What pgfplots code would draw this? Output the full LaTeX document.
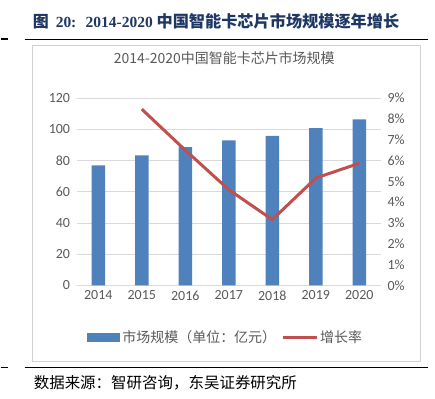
\documentclass[border=0pt]{standalone}
\usepackage{pgfplots}
\pgfplotsset{compat=1.18}
\usepackage{fontspec}
\setmainfont{Carlito}
\newfontfamily\cjk{Noto Sans CJK SC}
\newfontfamily\serifb{Liberation Serif}
\definecolor{barblue}{HTML}{4F81BD}
\definecolor{linered}{HTML}{C0504D}
\definecolor{txtgray}{HTML}{595959}
\definecolor{gridgray}{HTML}{D9D9D9}
\definecolor{navy}{HTML}{1F3763}
\begin{document}
\begin{tikzpicture}[x=1pt,y=1pt]
\path (0,0) rectangle (435,399);
% page header
\begin{scope}[every node/.style={anchor=base west,inner sep=0pt,text=navy}]
\node at (32,371) {\fontsize{16}{16}\selectfont\cjk\bfseries 图};
\node at (55,371) {\fontsize{15.5}{15.5}\selectfont\serifb\bfseries 20:};
\node at (85,371) {\fontsize{15.5}{15.5}\selectfont\serifb\bfseries 2014-2020};
\node at (156,371) {\fontsize{16.2}{16.2}\selectfont\cjk\bfseries 中国智能卡芯片市场规模逐年增长};
\end{scope}
\draw[line width=1.3pt] (24,359.5) -- (428,359.5);
\draw[line width=1.3pt] (0,360) -- (7,360);
% chart frame
\draw[gray!35, line width=0.8pt] (32,37.3) rectangle (420.5,353.3);
\node[text=txtgray,inner sep=0pt] at (224,341) {\fontsize{14}{14}\selectfont\cjk 2014-2020中国智能卡芯片市场规模};
% bottom rule and source
\draw[line width=1.3pt] (24,31.3) -- (428,31.3);
\draw[line width=1.3pt] (0,31.3) -- (7,31.3);
\node[anchor=west,inner sep=0pt] at (33,15.7) {\fontsize{15.5}{15.5}\selectfont\cjk 数据来源：智研咨询，东吴证券研究所};

\begin{axis}[
  at={(76pt,113.2pt)}, anchor=south west,
  scale only axis, width=305pt, height=187.5pt,
  xmin=-0.5, xmax=6.5, ymin=0, ymax=120,
  xtick={0,1,2,3,4,5,6},
  xticklabels={2014,2015,2016,2017,2018,2019,2020},
  ytick={0,20,40,60,80,100,120},
  axis line style={draw=none},
  major tick length=0pt,
  ymajorgrids, grid style={gridgray, line width=0.9pt},
  tick label style={font=\fontsize{14}{14}\selectfont, text=txtgray},
  /pgf/number format/assume math mode=true,
  yticklabel style={xshift=-3pt},
  xticklabel style={yshift=-2pt},
  legend style={at={(0.49,-0.278)}, anchor=center, draw=none, fill=none,
    font=\fontsize{14}{14}\selectfont\cjk, text=txtgray,
    /tikz/every even column/.append style={column sep=3pt}},
  legend columns=2,
]
\addplot[ybar, bar width=13.5pt, fill=barblue, draw=none,
  legend image code/.code={\fill[barblue] (0pt,-4.5pt) rectangle (33pt,4.5pt);}]
  coordinates {(0,76.9) (1,83.3) (2,88.6) (3,92.9) (4,95.9) (5,100.8) (6,106.4)};
\addlegendentry{市场规模（单位：亿元）}
\addlegendimage{linered, line width=3pt, legend image code/.code={\draw[linered,line width=3pt] (0pt,0pt) -- (34pt,0pt);}}
\addlegendentry{增长率}
\end{axis}

\begin{axis}[
  at={(76pt,113.2pt)}, anchor=south west,
  scale only axis, width=305pt, height=187.5pt,
  xmin=-0.5, xmax=6.5, ymin=0, ymax=9,
  axis x line=none,
  axis y line*=right,
  axis line style={draw=none},
  major tick length=0pt,
  ytick={0,1,2,3,4,5,6,7,8,9},
  yticklabel={\pgfmathprintnumber{\tick}\%},
  tick label style={font=\fontsize{14}{14}\selectfont, text=txtgray},
  /pgf/number format/assume math mode=true,
  yticklabel style={xshift=3pt},
]
\addplot[linered, line width=3pt, line join=round]
  coordinates {(1,8.47) (2,6.5) (3,4.6) (4,3.16) (5,5.16) (6,5.87)};
\end{axis}
\end{tikzpicture}
\end{document}
